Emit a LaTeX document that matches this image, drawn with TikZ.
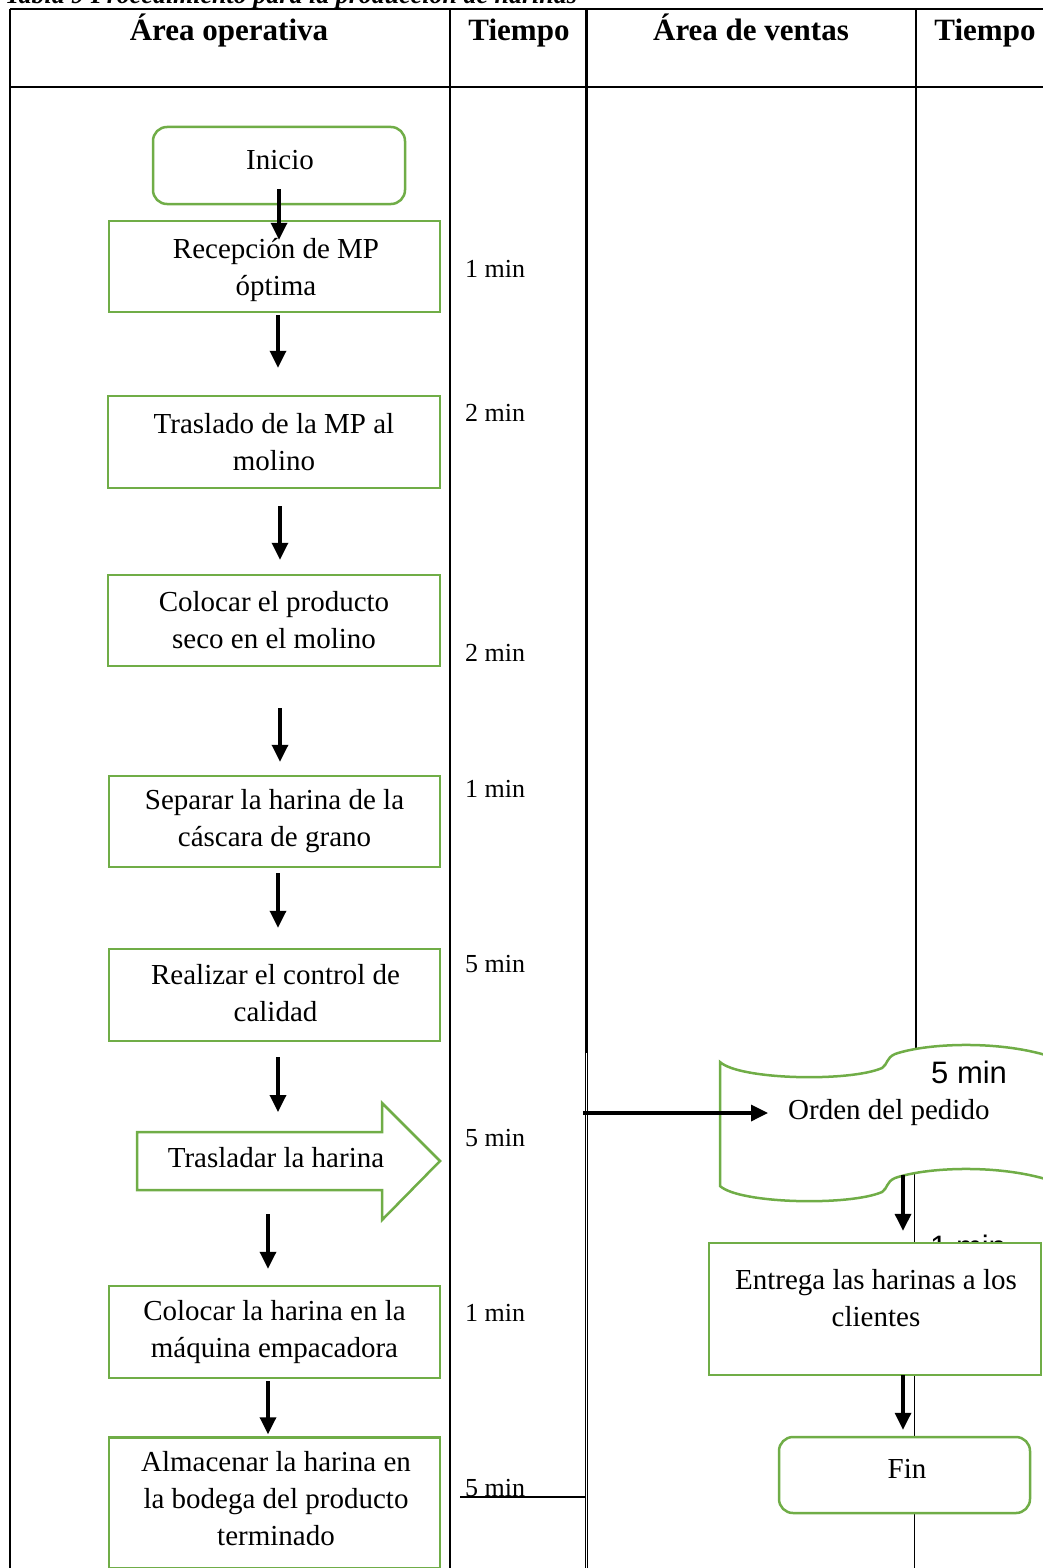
\documentclass[tikz,border=0pt]{standalone}
\usepackage{fontspec}
\setmainfont{Liberation Serif}
\newfontfamily\arialf{Liberation Sans}
\usetikzlibrary{arrows.meta,calc}
\definecolor{grn}{HTML}{70AD47}
\newcommand\mfs{\fontsize{29}{37}\selectfont}
\newcommand\tfs{\fontsize{26}{30}\selectfont}
\newcommand\hfs{\bfseries\fontsize{31}{36}\selectfont}
\begin{document}
\begin{tikzpicture}[x=1pt,y=-1pt,
  tline/.style={line width=2.8pt},
  gline/.style={draw=grn,line width=2.5pt},
  box/.style={gline,fill=white,minimum width=331pt,minimum height=91pt,align=center,inner sep=0pt,font=\mfs},
  rbox/.style={box,rounded corners=14pt,minimum width=252pt,minimum height=77pt},
  txt/.style={inner sep=0pt,align=center,font=\mfs},
  tlabel/.style={anchor=base west,inner sep=0pt,font=\tfs},
  hdr/.style={anchor=base,inner sep=0pt,font=\hfs},
  arr/.style={line width=3.4pt,-{Triangle[length=17pt,width=16pt]}}]
\useasboundingbox (0,0) rectangle (1042,1568);
% caption (cut by the page edge, as in the reference)
\node[anchor=base west,inner sep=0pt,font=\bfseries\itshape\fontsize{26}{30}\selectfont] (cap) at (5,4) {Tabla 9 Procedimiento para la producción de harinas};
% table lines
\draw[tline] (10,9) -- (1050,9);
\draw[tline] (10,87) -- (1050,87);
\draw[tline] (10,9) -- (10,1570);
\draw[tline] (450,9) -- (450,1570);
\draw[line width=3pt] (586.5,9) -- (586.5,1570);
\draw[white,line width=0.9pt] (586.5,1053) -- (586.5,1570);
\draw[tline] (916,9) -- (916,1052);
\draw[line width=1.1pt] (914.5,1050) -- (914.5,1570);
\draw[line width=1.8pt] (460,1497) -- (586,1497);
% headers
\node[hdr] (h1) at (229,41) {Área operativa};
\node[hdr] (h2) at (519,41) {Tiempo};
\node[hdr] (h3) at (751,41) {Área de ventas};
\node[hdr] (h4) at (985,41) {Tiempo};
% time labels
\node[tlabel] (t1) at (465,277) {1 min};
\node[tlabel] (t2) at (465,421) {2 min};
\node[tlabel] (t3) at (465,661) {2 min};
\node[tlabel] (t4) at (465,797) {1 min};
\node[tlabel] (t5) at (465,972) {5 min};
\node[tlabel] (t6) at (465,1146) {5 min};
\node[tlabel] (t7) at (465,1321) {1 min};
\node[tlabel] (t8) at (465,1496) {5 min};
\node[anchor=base west,inner sep=0pt,font=\arialf\fontsize{31}{36}\selectfont] (t10) at (930,1257) {1 min};
% left column process
\node[rbox] (inicio) at (279,165.5) {};
\node[txt] (iniciot) at (280,160) {Inicio};
\node[box] (rec) at (274.5,266.5) {};
\node[txt] (rect) at (276,270) {Recepción de MP\\óptima};
\node[box,minimum width=332pt,minimum height=92pt] (tras) at (274,442) {Traslado de la MP al\\molino};
\node[box,minimum width=332pt] (col1) at (274,620.5) {Colocar el producto\\seco en el molino};
\node[box] (sep) at (274.5,821.5) {Separar la harina de la\\cáscara de grano};
\node[box,minimum height=92pt] (real) at (274.5,995) {};
\node[txt] (realt) at (275.5,993) {Realizar el control de\\calidad};
\draw[gline,fill=white] (137,1132) -- (382,1132) -- (382,1103) -- (440,1161) -- (382,1220) -- (382,1190) -- (137,1190) -- cycle;
\node[txt] (trh) at (276,1158) {Trasladar la harina};
\node[box,minimum height=92pt] (col2) at (274.5,1332) {Colocar la harina en la\\máquina empacadora};
\node[box,minimum height=131pt] (alm) at (274.5,1503) {};
\node[txt] (almt) at (276,1499) {Almacenar la harina en\\la bodega del producto\\terminado};
% right column
\draw[gline,fill=white] (720,1062) .. controls (740,1080) and (850,1082) .. (882,1068)
  .. controls (888,1064) and (886,1058) .. (895,1054)
  .. controls (930,1042) and (1010,1040) .. (1060,1060) -- (1060,1184)
  .. controls (1010,1164) and (930,1166) .. (895,1178)
  .. controls (886,1182) and (888,1188) .. (882,1192)
  .. controls (850,1206) and (740,1204) .. (720,1186) -- cycle;
\node[anchor=base west,inner sep=0pt,font=\arialf\fontsize{31}{36}\selectfont] (t9) at (931,1083) {5 min};
\node[txt,anchor=west] (ord) at (788,1113) {Orden del pedido};
\coordinate (docb) at (903,1175);
\coordinate (src) at (583,1113);
\draw[gline,fill=white] (709,1243) rectangle (1041,1375);
\node[draw=none,minimum width=332pt,minimum height=132pt,inner sep=0pt] (ent) at (875,1309) {};
\node[txt] (entt) at (876,1298) {Entrega las harinas a los\\clientes};
\node[rbox,minimum width=251pt,minimum height=76pt] (fin) at (904.5,1475) {};
\node[txt] (fint) at (907,1469) {Fin};
% connectors
\draw[arr] ($(inicio.south)+(0,-16)$) -- ($(inicio.south |- rec.north)+(0,20)$);
\draw[arr] ($(rec.south)+(3.5,2)$) -- ($(tras.north)+(4,-27)$);
\draw[arr] ($(tras.south)+(6,17)$) -- ($(col1.north)+(6,-14)$);
\draw[arr] ($(col1.south)+(6,41)$) -- ($(sep.north)+(5.5,-13)$);
\draw[arr] ($(sep.south)+(3.5,5)$) -- ($(real.north)+(3.5,-20)$);
\draw[arr] ($(real.south)+(3.5,15)$) -- ($(trh)+(2,-46)$);
\draw[arr] ($(trh)+(-8,56)$) -- ($(col2.north)+(-6.5,-16)$);
\draw[arr] ($(col2.south)+(-6.5,2)$) -- ($(alm.north)+(-6.5,-2)$);
\draw[arr] (src) -- (src -| {$(ord.west)+(-20,0)$});
\draw[arr] (docb) -- ($(ent.north)+(28,-12)$);
\draw[arr] ($(ent.south)+(28,0)$) -- ($(fin.north)+(-1.5,-6)$);
\end{tikzpicture}
\end{document}
